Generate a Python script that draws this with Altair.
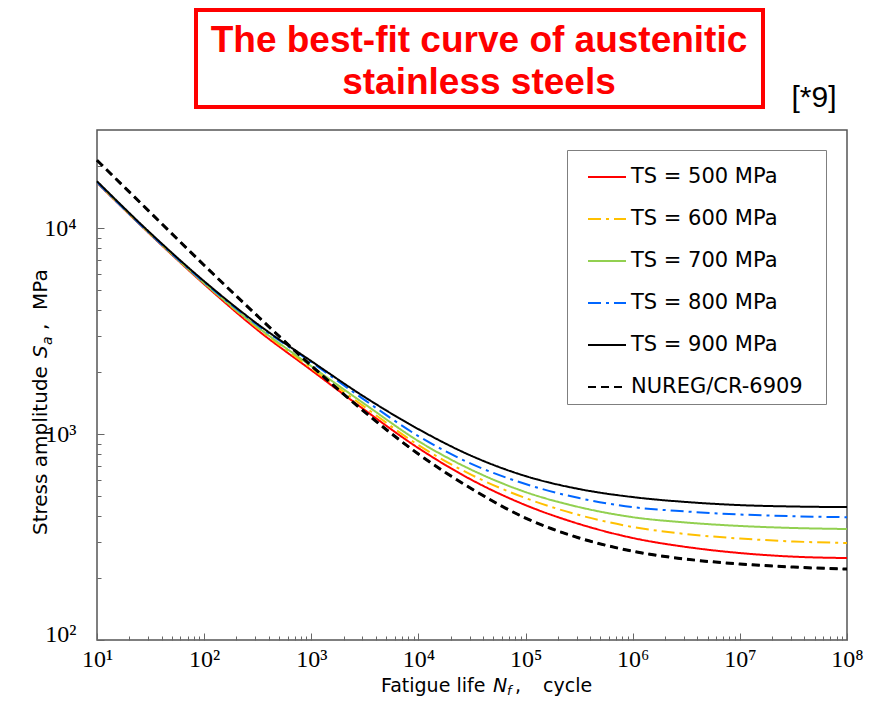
import altair as alt
import pandas as pd

# ---------------- data ----------------
N_cycles = [1e1, 10**1.5, 1e2, 10**2.5, 1e3, 10**3.5, 1e4, 10**4.5,
            1e5, 10**5.5, 1e6, 10**6.5, 1e7, 10**7.5, 1e8]

series_names = ["TS = 500 MPa", "TS = 600 MPa", "TS = 700 MPa",
                "TS = 800 MPa", "TS = 900 MPa", "NUREG/CR-6909"]

ts500 = [16630, 9299, 5349, 3198, 2045, 1308, 855, 598, 452, 366, 313, 283, 264.5, 254, 250]
ts600 = [16720, 9352, 5408, 3271, 2091, 1352, 884, 632, 489, 404.5, 354, 327, 311, 301, 296]
ts700 = [16720, 9352, 5408, 3307, 2138, 1398, 925, 669, 523, 442, 395, 372, 358, 350, 346]
ts800 = [16720, 9352, 5468, 3382, 2236, 1462, 978, 715, 572, 489, 442, 421, 407, 399, 395]
ts900 = [16910, 9456, 5529, 3420, 2262, 1512, 1057, 782, 625.5, 541, 494.5, 468, 452, 445, 442]
nureg = [21380, 11890, 6612, 3739, 2150, 1279, 800, 541, 391, 313, 270, 247, 234, 226, 221]

series_values = [ts500, ts600, ts700, ts800, ts900, nureg]

colors = ["#ff0000", "#ffc000", "#92d050", "#0066ff", "#000000", "#000000"]
dashes = [[1, 0], [13, 5, 3, 5], [1, 0], [13, 5, 3, 5], [1, 0], [8, 5]]

decades_x = [1e1, 1e2, 1e3, 1e4, 1e5, 1e6, 1e7, 1e8]
decades_y = [1e2, 1e3, 1e4]
minor_x = [m * 10**k for k in range(1, 8) for m in range(2, 10)]
minor_y = [m * 10**k for k in range(2, 5) for m in range(2, 10) if m * 10**k < 30000]

rows = []
for name, vals in zip(series_names, series_values):
    for n, s in zip(N_cycles, vals):
        rows.append({"N": n, "S": s, "series": name})
df = pd.DataFrame(rows)

sup_expr = ("'10' + ['\u2070','\u00b9','\u00b2','\u00b3','\u2074','\u2075','\u2076','\u2077','\u2078','\u2079']"
            "[round(log(datum.value)/LN10)]")

xscale = alt.Scale(type="log", domain=[10, 1e8], nice=False)
yscale = alt.Scale(type="log", domain=[100, 30000], nice=False)

legend = alt.Legend(orient="none", legendX=470, legendY=20, title=None,
                    symbolType="stroke", symbolSize=1444, symbolStrokeWidth=2,
                    symbolOffset=13, labelOffset=4,
                    labelFont="DejaVu Sans", labelFontSize=21, labelColor="black",
                    labelExpr="datum.label + '\u2800'",
                    padding=7, rowPadding=12, labelLimit=400,
                    strokeColor="#7f7f7f", fillColor="white")

lines = alt.Chart(df).mark_line(interpolate="monotone", strokeWidth=2).encode(
    x=alt.X("N:Q", scale=xscale,
            axis=alt.Axis(orient="bottom", values=decades_x, labelExpr=sup_expr,
                          tickSize=7, offset=-7, domain=False, grid=False,
                          labelFont="Liberation Serif", labelFontSize=24, labelColor="black",
                          labelPadding=7, labelFlush=False, labelOverlap=False, labelBound=False,
                          tickColor="#666666", title=None)),
    y=alt.Y("S:Q", scale=yscale,
            axis=alt.Axis(orient="left", values=decades_y, labelExpr=sup_expr,
                          tickSize=7, offset=-7, domain=False, grid=False,
                          labelFont="Liberation Serif", labelFontSize=24, labelColor="black",
                          labelPadding=21, labelFlush=False, labelOverlap=False, labelBound=False,
                          labelOffset={"condition": {"test": "datum.value <= 100", "value": -6}, "value": 0},
                          tickColor="#666666", title=None)),
    color=alt.Color("series:N", scale=alt.Scale(domain=series_names, range=colors), legend=legend),
    strokeDash=alt.StrokeDash("series:N", scale=alt.Scale(domain=series_names, range=dashes), legend=legend),
)

nureg_overlay = alt.Chart(df).transform_filter(
    alt.datum.series == "NUREG/CR-6909"
).mark_line(interpolate="monotone", strokeWidth=3, color="black", strokeDash=[8, 5]).encode(
    x=alt.X("N:Q", scale=xscale,
            axis=alt.Axis(orient="bottom", values=minor_x, labels=False, tickSize=4, offset=-4,
                          domain=False, grid=False, tickColor="#666666", title=None)),
    y=alt.Y("S:Q", scale=yscale,
            axis=alt.Axis(orient="left", values=minor_y, labels=False, tickSize=4, offset=-4,
                          domain=False, grid=False, tickColor="#666666", title=None)),
)

one = pd.DataFrame({"a": [0]})

def txt(text, x, y, size, **kw):
    return alt.Chart(one).mark_text(text=text, fontSize=size, **kw).encode(
        x=alt.value(x), y=alt.value(y))

title_box = alt.Chart(one).mark_rect(fill="white", stroke="#ff0000", strokeWidth=4).encode(
    x=alt.value(99), x2=alt.value(666), y=alt.value(-120), y2=alt.value(-23))

tfont = "Liberation Sans"
title1 = txt("The best-fit curve of austenitic", 382, -89, 37, font=tfont, fontWeight="bold",
             color="#ff0000", align="center", baseline="middle")
title2 = txt("stainless steels", 382, -47, 37, font=tfont, fontWeight="bold",
             color="#ff0000", align="center", baseline="middle")
ref = txt("[*9]", 717, -32, 30, font="Liberation Sans", color="black", align="center", baseline="middle")

af = "DejaVu Sans"
xb = 562
xt1 = txt("Fatigue life", 284, xb, 19, font=af, align="left", baseline="alphabetic")
xt2 = txt("N", 396, xb, 19, font=af, fontStyle="italic", align="left", baseline="alphabetic")
xt3 = txt("f", 410, xb + 3, 13, font=af, fontStyle="italic", align="left", baseline="alphabetic")
xt4 = txt(",", 418, xb, 19, font=af, align="left", baseline="alphabetic")
xt5 = txt("cycle", 446, xb, 19, font=af, align="left", baseline="alphabetic")

yt1 = txt("Stress amplitude", -50, 405, 20, font=af, angle=270, align="left", baseline="alphabetic")
yt2 = txt("S", -50, 228, 20, font=af, fontStyle="italic", angle=270, align="left", baseline="alphabetic")
yt3 = txt("a", -45, 215, 14, font=af, fontStyle="italic", angle=270, align="left", baseline="alphabetic")
yt4 = txt(",", -50, 200, 20, font=af, angle=270, align="left", baseline="alphabetic")
yt5 = txt("MPa", -50, 180, 20, font=af, angle=270, align="left", baseline="alphabetic")

chart = alt.layer(
    lines, nureg_overlay, title_box, title1, title2, ref,
    xt1, xt2, xt3, xt4, xt5, yt1, yt2, yt3, yt4, yt5
).resolve_axis(
    x="independent", y="independent"
).properties(
    width=750, height=510,
    padding={"left": 89, "top": 122, "right": 20, "bottom": 58},
    autosize=alt.AutoSizeParams(type="none"),
).configure_view(
    stroke="#555555", strokeWidth=1.5
)

chart.save("out.html", embed_options={"renderer": "svg", "actions": False})
